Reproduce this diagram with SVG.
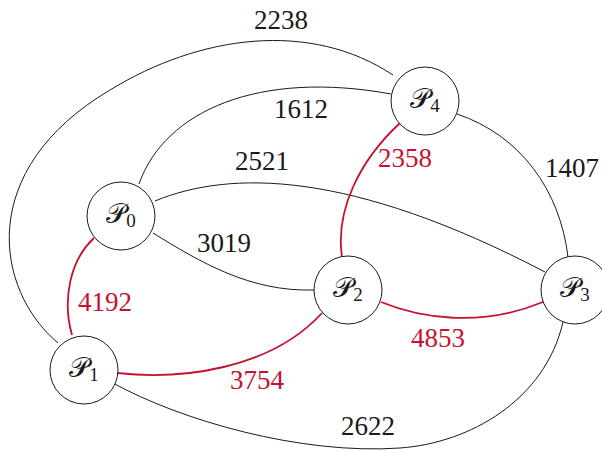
<svg xmlns="http://www.w3.org/2000/svg" width="602" height="451" viewBox="0 0 602 451">
<style>
.e{fill:none;stroke:#1a1a1a;stroke-width:1}
.r{fill:none;stroke:#c4122f;stroke-width:1.8}
.n{fill:#fff;stroke:#1a1a1a;stroke-width:1}
.lb{font-family:'Liberation Serif','DejaVu Serif',serif;font-size:27px;fill:#1a1a1a;text-anchor:middle}
.lr{font-family:'Liberation Serif','DejaVu Serif',serif;font-size:27px;fill:#c4122f;text-anchor:middle}
.nl{font-family:'DejaVu Serif',serif;font-size:28px;fill:#1a1a1a;text-anchor:middle}
.sub{font-family:'Liberation Serif',serif;font-size:19px}
</style>
<rect width="602" height="451" fill="#fff"/>
<g id="connectors">
<path class="e" d="M 58 343 C -5 290, -25 170, 110 90 C 200 35, 310 20, 393 75"/>
<path class="e" d="M 139 184 C 165 110, 260 70, 391 94"/>
<path class="e" d="M 155 201 C 230 170, 350 170, 545 272"/>
<path class="e" d="M 153 233 C 200 262, 250 292, 314 290"/>
<path class="r" d="M 94 238 C 70 260, 62 300, 72 335"/>
<path class="r" d="M 400 123 C 360 160, 335 210, 342 257"/>
<path class="e" d="M 457 114 C 520 135, 560 190, 568 257"/>
<path class="r" d="M 117 373 C 180 380, 270 370, 322 313"/>
<path class="r" d="M 381 302 C 420 318, 480 328, 543 302"/>
<path class="e" d="M 113 383 C 180 420, 300 455, 400 448 C 470 443, 545 400, 563 322"/>
<text class="lb" x="281" y="29">2238</text>
<text class="lb" x="301" y="118">1612</text>
<text class="lb" x="262" y="170">2521</text>
<text class="lb" x="572" y="177">1407</text>
<text class="lr" x="405" y="167">2358</text>
<text class="lb" x="224" y="252">3019</text>
<text class="lr" x="105" y="311">4192</text>
<text class="lr" x="438" y="347">4853</text>
<text class="lr" x="257" y="389">3754</text>
<text class="lb" x="368" y="435">2622</text>
</g>
<g id="P0"><circle class="n" cx="121" cy="216" r="34"/><text class="nl" x="121" y="223">𝒫<tspan class="sub" dy="4">0</tspan></text></g>
<g id="P1"><circle class="n" cx="84" cy="370" r="34"/><text class="nl" x="84" y="377">𝒫<tspan class="sub" dy="4">1</tspan></text></g>
<g id="P2"><circle class="n" cx="348" cy="290" r="34"/><text class="nl" x="348" y="297">𝒫<tspan class="sub" dy="4">2</tspan></text></g>
<g id="P3"><circle class="n" cx="575" cy="290" r="34"/><text class="nl" x="575" y="297">𝒫<tspan class="sub" dy="4">3</tspan></text></g>
<g id="P4"><circle class="n" cx="425" cy="101" r="34"/><text class="nl" x="425" y="108">𝒫<tspan class="sub" dy="4">4</tspan></text></g>
</svg>
